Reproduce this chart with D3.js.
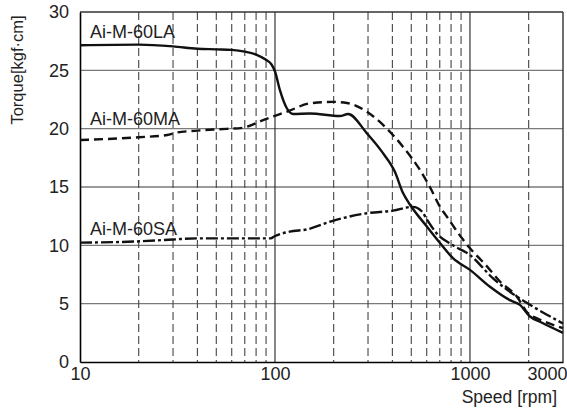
<!DOCTYPE html>
<html>
<head>
<meta charset="utf-8">
<script src="https://cdn.jsdelivr.net/npm/d3@7"></script>
<style>
  html, body { margin: 0; padding: 0; background: #fff; }
  svg { display: block; font-family: "Liberation Sans", Arial, sans-serif; }
</style>
</head>
<body>
<svg id="chart" width="567" height="410"></svg>
<script>
// ---- data ----
const seriesNames = ["Ai-M-60LA", "Ai-M-60MA", "Ai-M-60SA"];
const speedLA = [10, 20, 30, 40, 50, 60, 70, 80, 90, 96, 100, 106, 115, 124, 151, 215, 237, 296, 358, 412, 453, 492, 602, 702, 818, 1000, 1267, 1603, 1804, 2031, 2285, 3000];
const torqueLA = [27.15, 27.2, 27.05, 26.85, 26.8, 26.75, 26.6, 26.35, 25.9, 25.5, 24.9, 23.3, 21.75, 21.26, 21.3, 21.08, 21.26, 19.6, 17.9, 16.3, 14.5, 13.5, 11.6, 10.2, 8.9, 7.9, 6.45, 5.3, 4.9, 3.9, 3.45, 2.5];
const speedMA = [10, 20, 28, 31, 40, 50, 69, 72, 87, 100, 117, 151, 198, 234, 296, 375, 453, 554, 623, 702, 762, 910, 1000, 1222, 1425, 1741, 1983, 2207, 3000];
const torqueMA = [19.03, 19.26, 19.46, 19.65, 19.83, 19.94, 20.08, 20.17, 20.74, 21.1, 21.5, 22.17, 22.3, 22.2, 21.45, 20.0, 18.46, 16.46, 15.0, 13.3, 12.45, 10.6, 9.75, 8.2, 6.9, 5.6, 4.17, 3.75, 2.9];
const speedSA = [10, 20, 30, 40, 50, 70, 95, 100, 119, 146, 198, 296, 403, 510, 567, 602, 677, 818, 1000, 1313, 1741, 2031, 3000];
const torqueSA = [10.23, 10.34, 10.5, 10.6, 10.6, 10.6, 10.6, 10.8, 11.17, 11.37, 12.1, 12.75, 12.97, 13.3, 12.9, 12.2, 11.0, 10.0, 9.17, 7.17, 5.6, 4.9, 3.3];
const xTickValues = [10, 100, 1000, 3000];
const xMinorGrid = [20, 30, 40, 50, 60, 70, 80, 90, 200, 300, 400, 500, 600, 700, 800, 900, 2000];
const xMajorGrid = [100, 1000];
const yTickValues = [0, 5, 10, 15, 20, 25, 30];
const xLabel = "Speed [rpm]";
const yLabel = "Torque[kgf·cm]";

// ---- layout ----
const svg = d3.select("#chart");
const L = 80, R = 563, T = 12, B = 362;
const x = d3.scaleLog().domain([10, 3000]).range([L, R]);
const y = d3.scaleLinear().domain([0, 30]).range([B, T]);

const g = svg.append("g");

// horizontal grid
g.selectAll("line.hgrid").data(yTickValues.filter(v => v > 0 && v < 30)).enter()
  .append("line").attr("class", "hgrid")
  .attr("x1", L).attr("x2", R).attr("y1", d => y(d)).attr("y2", d => y(d))
  .attr("stroke", "#7a7a7a").attr("stroke-width", 1.4);

// minor vertical dashed grid
g.selectAll("line.vminor").data(xMinorGrid).enter()
  .append("line").attr("class", "vminor")
  .attr("x1", d => x(d)).attr("x2", d => x(d)).attr("y1", T).attr("y2", B)
  .attr("stroke", "#444").attr("stroke-width", 1.1)
  .attr("stroke-dasharray", "8,4");

// major vertical grid
g.selectAll("line.vmajor").data(xMajorGrid).enter()
  .append("line").attr("class", "vmajor")
  .attr("x1", d => x(d)).attr("x2", d => x(d)).attr("y1", T).attr("y2", B)
  .attr("stroke", "#222").attr("stroke-width", 1.1);

// frame
g.append("line").attr("x1", L).attr("x2", R).attr("y1", T).attr("y2", T).attr("stroke", "#333").attr("stroke-width", 1.4);
g.append("line").attr("x1", R).attr("x2", R).attr("y1", T).attr("y2", B).attr("stroke", "#333").attr("stroke-width", 1.4);

// axes
const xAxis = d3.axisBottom(x).tickValues(xTickValues).tickSize(0).tickPadding(5).tickFormat(d3.format("d"));
const gx = svg.append("g").attr("transform", `translate(0,${B})`).call(xAxis);
gx.select(".domain").attr("stroke", "#000").attr("stroke-width", 1.6);
gx.selectAll("text").attr("font-size", 18).attr("fill", "#222")
  .attr("font-family", '"Liberation Sans", Arial, sans-serif');
gx.selectAll(".tick").filter(d => d === 3000).select("text")
  .attr("text-anchor", "end").attr("dx", 4);

const yAxis = d3.axisLeft(y).tickValues(yTickValues).tickSize(0).tickPadding(11);
const gy = svg.append("g").attr("transform", `translate(${L},0)`).call(yAxis);
gy.select(".domain").attr("stroke", "#000").attr("stroke-width", 1.6);
gy.selectAll("text").attr("font-size", 18).attr("fill", "#222")
  .attr("font-family", '"Liberation Sans", Arial, sans-serif');

// axis labels
svg.append("text").attr("x", 557).attr("y", 403).attr("text-anchor", "end")
  .attr("font-size", 17.5).attr("fill", "#222").text(xLabel);
svg.append("text").attr("transform", "translate(23,70) rotate(-90)")
  .attr("text-anchor", "middle").attr("font-size", 16.5).attr("fill", "#222").text(yLabel);

// curves
const line = d3.line().x(d => x(d[0])).y(d => y(d[1])).curve(d3.curveMonotoneX);
const series = [
  { name: seriesNames[0], pts: d3.zip(speedLA, torqueLA), dash: null, lx: 90, ly: 38 },
  { name: seriesNames[1], pts: d3.zip(speedMA, torqueMA), dash: "9,5", lx: 90, ly: 125 },
  { name: seriesNames[2], pts: d3.zip(speedSA, torqueSA), dash: "12,3,3,3", lx: 90, ly: 235 }
];
series.forEach(s => {
  svg.append("path").attr("d", line(s.pts)).attr("fill", "none")
    .attr("stroke", "#111").attr("stroke-width", 2.4)
    .attr("stroke-dasharray", s.dash);
  svg.append("text").attr("x", s.lx).attr("y", s.ly)
    .attr("font-size", 18).attr("fill", "#222").text(s.name);
});
</script>
</body>
</html>
